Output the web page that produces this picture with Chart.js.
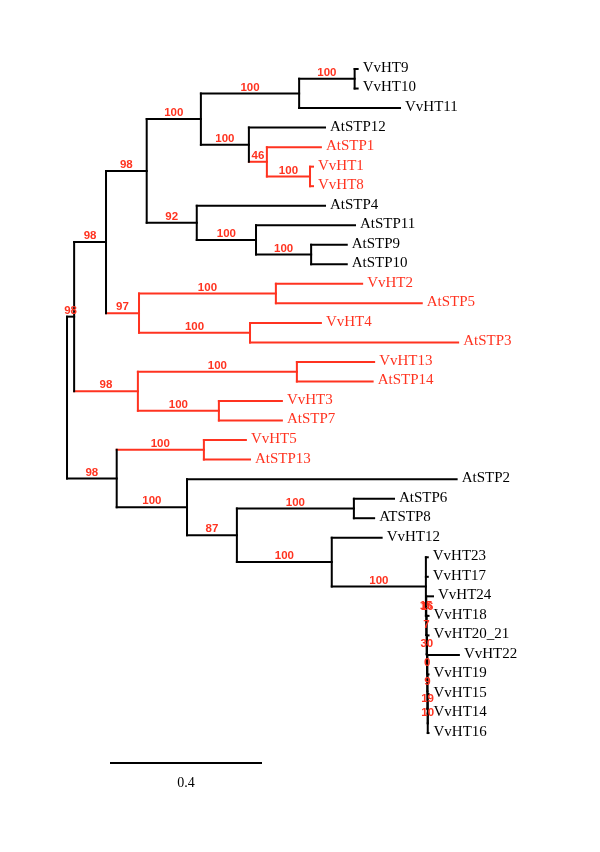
<!DOCTYPE html>
<html>
<head>
<meta charset="utf-8">
<script src="https://cdn.jsdelivr.net/npm/chart.js@4/dist/chart.umd.min.js"></script>
<style>
  html, body { margin: 0; padding: 0; background: #fff; }
  #wrap { position: relative; width: 600px; height: 852px; }
</style>
</head>
<body>
<div id="wrap"><canvas id="c"></canvas></div>
<script>
// ---- Leaves (top to bottom), their depth (branch length from root) and colour group
const leafNames = ['VvHT9','VvHT10','VvHT11','AtSTP12','AtSTP1','VvHT1','VvHT8','AtSTP4','AtSTP11','AtSTP9','AtSTP10',
  'VvHT2','AtSTP5','VvHT4','AtSTP3','VvHT13','AtSTP14','VvHT3','AtSTP7','VvHT5','AtSTP13','AtSTP2','AtSTP6','ATSTP8',
  'VvHT12','VvHT23','VvHT17','VvHT24','VvHT18','VvHT20_21','VvHT22','VvHT19','VvHT15','VvHT14','VvHT16'];
const leafDepth = [0.775,0.775,0.888,0.688,0.677,0.656,0.656,0.688,0.768,0.746,0.746,
  0.787,0.946,0.677,1.043,0.819,0.815,0.573,0.573,0.477,0.488,1.039,0.872,0.819,
  0.839,0.962,0.962,0.976,0.964,0.964,1.045,0.964,0.964,0.964,0.964];
const leafRed = [0,0,0,0,1,1,1,0,0,0,0,
  1,1,1,1,1,1,1,1,1,1,0,0,0,
  0,0,0,0,0,0,0,0,0,0,0];

// ---- Internal nodes
const nodeNames = ['Root','A','B','C','G','I','K','J','L','M','H','N','O','D','P','Q','E','R','S','F','T','U','V','W','X','Y','N15','N7','N30','N0','N9','N19','N10'];
const nodeDepth = [0,0.019,0.104,0.2125,0.357,0.619,0.767,0.485,0.533,0.648,0.346,0.504,0.651,0.192,0.557,0.488,0.189,0.613,0.405,0.1325,0.365,0.32,0.453,0.765,0.706,0.957,0.958,0.959,0.960,0.961,0.961,0.962,0.962];
const nodeChildren = [
  ['A','F'], ['B','E'], ['C','D'], ['G','H'], ['I','J'], ['K','VvHT11'], ['VvHT9','VvHT10'],
  ['AtSTP12','L'], ['AtSTP1','M'], ['VvHT1','VvHT8'], ['AtSTP4','N'], ['AtSTP11','O'], ['AtSTP9','AtSTP10'],
  ['P','Q'], ['VvHT2','AtSTP5'], ['VvHT4','AtSTP3'], ['R','S'], ['VvHT13','AtSTP14'], ['VvHT3','AtSTP7'],
  ['T','U'], ['VvHT5','AtSTP13'], ['AtSTP2','V'], ['W','X'], ['AtSTP6','ATSTP8'], ['VvHT12','Y'],
  ['VvHT23','VvHT17','N15'], ['VvHT24','N7'], ['VvHT18','N30'], ['VvHT20_21','N0'], ['VvHT22','N9'],
  ['VvHT19','N19'], ['VvHT15','N10'], ['VvHT14','VvHT16']
];
const nodeSupport = ['','98','98','98','100','100','100','100','46','100','92','100','100','97','100','100','98','100','100','98','100','100','87','100','100','100','15','7','30','0','9','19','10'];
const nodeSupportAlt = {'N15': '16'};  // second, overlapping support value printed at the same node
const nodeRed = [0,0,0,0,0,0,0,0,1,1,0,0,0,1,1,1,1,1,1,0,1,0,0,0,0,0,0,0,0,0,0,0,0];

const scaleBarValue = 0.4;
const scaleBarLabel = '0.4';

// ---- Build geometry from the tree
const BLACK = '#000000', RED = '#ff3320';
const info = {};
leafNames.forEach((n, i) => info[n] = { y: i, depth: leafDepth[i], red: !!leafRed[i], leaf: true });
nodeNames.forEach((n, i) => info[n] = { depth: nodeDepth[i], red: !!nodeRed[i], leaf: false, idx: i });
function yOf(name) {
  const o = info[name];
  if (o.y === undefined) {
    const ch = nodeChildren[o.idx];
    o.y = (yOf(ch[0]) + yOf(ch[ch.length - 1])) / 2;
  }
  return o.y;
}
nodeNames.forEach(n => yOf(n));

const segs = [];
const supportLabels = [];
nodeNames.forEach((n, i) => {
  const ch = nodeChildren[i];
  const d = nodeDepth[i];
  segs.push({ pts: [{x: d, y: info[ch[0]].y}, {x: d, y: info[ch[ch.length-1]].y}], color: nodeRed[i] ? RED : BLACK });
  ch.forEach(c => {
    const o = info[c];
    segs.push({ pts: [{x: d, y: o.y}, {x: o.depth, y: o.y}], color: o.red ? RED : BLACK });
    if (!o.leaf && nodeSupport[o.idx]) {
      const small = o.depth - d < 0.01;
      supportLabels.push({ x: (d + o.depth) / 2, y: o.y, text: nodeSupport[o.idx], dy: small ? -10 : -6 });
      if (nodeSupportAlt[c]) supportLabels.push({ x: (d + o.depth) / 2, y: o.y, text: nodeSupportAlt[c], dy: small ? -9 : -6, dx: 1 });
    }
  });
});
// scale bar
const sbStart = 0.1173, sbY = 35.53;
segs.push({ pts: [{x: sbStart, y: sbY}, {x: sbStart + scaleBarValue, y: sbY}], color: BLACK });

const datasets = segs.map(s => ({
  data: s.pts, showLine: true, borderColor: s.color, backgroundColor: s.color,
  borderWidth: 2, pointRadius: 0, borderCapStyle: 'square', fill: false
}));

const textPlugin = {
  id: 'treeText',
  afterDatasetsDraw(chart) {
    const ctx = chart.ctx, xs = chart.scales.x, ys = chart.scales.y;
    ctx.save();
    ctx.textBaseline = 'middle';
    ctx.textAlign = 'left';
    ctx.font = '15px "Liberation Serif", "Times New Roman", serif';
    leafNames.forEach((n, i) => {
      ctx.fillStyle = leafRed[i] ? RED : BLACK;
      ctx.fillText(n, xs.getPixelForValue(leafDepth[i]) + 5, ys.getPixelForValue(i) - 1);
    });
    ctx.font = 'bold 11.5px "Liberation Sans", Arial, sans-serif';
    ctx.textAlign = 'center';
    ctx.fillStyle = RED;
    supportLabels.forEach(l => {
      ctx.fillText(l.text, xs.getPixelForValue(l.x) + (l.dx || 0), ys.getPixelForValue(l.y) + l.dy);
    });
    ctx.font = '14px "Liberation Serif", "Times New Roman", serif';
    ctx.fillStyle = BLACK;
    ctx.fillText(scaleBarLabel, xs.getPixelForValue(sbStart + scaleBarValue / 2), ys.getPixelForValue(sbY) + 20);
    ctx.restore();
  }
};

new Chart(document.getElementById('c'), {
  type: 'scatter',
  data: { datasets },
  options: {
    responsive: true, maintainAspectRatio: false, animation: false,
    layout: { padding: 0 },
    plugins: { legend: { display: false }, tooltip: { enabled: false } },
    scales: {
      x: { type: 'linear', display: false, min: -0.1787, max: 1.4213 },
      y: { type: 'linear', display: false, reverse: true, min: -3.533, max: 40.09 }
    }
  },
  plugins: [textPlugin]
});
</script>
</body>
</html>
